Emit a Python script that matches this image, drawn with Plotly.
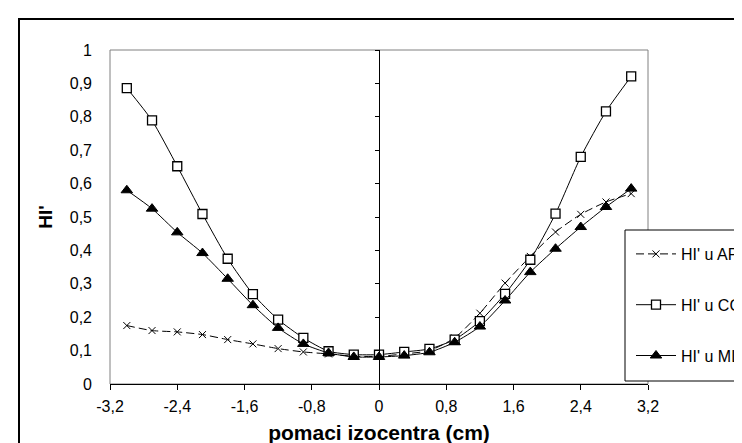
import plotly.graph_objects as go

# ---- data ----
x_shift = [-3.0, -2.7, -2.4, -2.1, -1.8, -1.5, -1.2, -0.9, -0.6, -0.3, 0.0,
           0.3, 0.6, 0.9, 1.2, 1.5, 1.8, 2.1, 2.4, 2.7, 3.0]
hi_ap = [0.175, 0.160, 0.156, 0.148, 0.133, 0.120, 0.106, 0.096, 0.090, 0.083, 0.083,
         0.090, 0.100, 0.138, 0.212, 0.302, 0.382, 0.455, 0.508, 0.545, 0.570]
hi_cc = [0.886, 0.789, 0.652, 0.509, 0.375, 0.269, 0.193, 0.138, 0.098, 0.088, 0.088,
         0.096, 0.105, 0.133, 0.188, 0.270, 0.372, 0.510, 0.680, 0.816, 0.921]
hi_ml = [0.580, 0.525, 0.454, 0.392, 0.315, 0.236, 0.168, 0.120, 0.093, 0.081, 0.081,
         0.085, 0.095, 0.125, 0.172, 0.250, 0.335, 0.405, 0.470, 0.530, 0.585]
series_names = ["HI' u AP", "HI' u CC", "HI' u ML"]

x_tick_vals = [-3.2, -2.4, -1.6, -0.8, 0.0, 0.8, 1.6, 2.4, 3.2]
x_tick_text = ["-3,2", "-2,4", "-1,6", "-0,8", "0", "0,8", "1,6", "2,4", "3,2"]
y_tick_vals = [0.0, 0.1, 0.2, 0.3, 0.4, 0.5, 0.6, 0.7, 0.8, 0.9, 1.0]
y_tick_text = ["0", "0,1", "0,2", "0,3", "0,4", "0,5", "0,6", "0,7", "0,8", "0,9", "1"]
x_title = "pomaci izocentra (cm)"
y_title = "HI'"

FONT = "Liberation Sans, Arial, sans-serif"

fig = go.Figure()
fig.add_trace(go.Scatter(
    x=x_shift, y=hi_ap, name=series_names[0], mode="lines+markers", legendgroup="a",
    line=dict(color="black", width=1, dash="8px,4px", shape="spline", smoothing=0.6),
    marker=dict(symbol="x-thin-open", size=7, color="black", line=dict(color="black", width=1)),
))
fig.add_trace(go.Scatter(
    x=x_shift, y=hi_cc, name=series_names[1], mode="lines+markers", legendgroup="b",
    line=dict(color="black", width=1, shape="spline", smoothing=0.6),
    marker=dict(symbol="square", size=9, color="white", line=dict(color="black", width=1.3)),
))
fig.add_trace(go.Scatter(
    x=x_shift, y=hi_ml, name=series_names[2], mode="lines+markers", legendgroup="c",
    line=dict(color="black", width=1, shape="spline", smoothing=0.6),
    marker=dict(symbol="triangle-up", size=10, color="black", line=dict(color="black", width=1)),
))
# empty helper trace so the central (x = 0) value axis is rendered
fig.add_trace(go.Scatter(x=[None], y=[None], yaxis="y2", showlegend=False,
                         hoverinfo="skip", mode="lines"))

L, R, T, B = 102, 102, 42, 67
W, H = 742, 443
pw, ph = W - L - R, H - T - B

def px(xpix):
    return (xpix - L) / pw

def py(ypix):
    return (H - B - ypix) / ph

fig.update_layout(
    width=W, height=H,
    margin=dict(l=L, r=R, t=T, b=B, autoexpand=False),
    paper_bgcolor="white", plot_bgcolor="white",
    font=dict(family=FONT, size=16, color="black"),
    showlegend=True,
    legend=dict(x=px(623), y=py(229), xanchor="left", yanchor="top",
                bgcolor="rgba(0,0,0,0)", borderwidth=0, itemwidth=40,
                tracegroupgap=27, traceorder="grouped",
                font=dict(family=FONT, size=16, color="black")),
    xaxis=dict(range=[-3.2, 3.2], tickvals=x_tick_vals, ticktext=x_tick_text,
               showgrid=False, zeroline=False, showline=True, linecolor="black",
               linewidth=1, ticks="outside", ticklen=5, tickcolor="black",
               tickfont=dict(size=16), ticklabelstandoff=3,
               title=dict(text="<b>" + x_title + "</b>", font=dict(size=21), standoff=11)),
    yaxis=dict(range=[0, 1], tickvals=y_tick_vals, ticktext=y_tick_text,
               showgrid=False, zeroline=False, showline=False, ticks="",
               tickfont=dict(size=16), ticklabelstandoff=17,
               title=dict(text="<b>" + y_title + "</b>", font=dict(size=19), standoff=12)),
    yaxis2=dict(range=[0, 1], overlaying="y", anchor="free", position=0.5, side="left",
                tickvals=y_tick_vals, showticklabels=False, showgrid=False, zeroline=False,
                showline=True, linecolor="black", linewidth=1,
                ticks="outside", ticklen=4, tickcolor="black"),
    shapes=[
        # plot area frame (gray)
        dict(type="rect", xref="paper", yref="paper", x0=0, y0=0, x1=1, y1=1,
             line=dict(color="#808080", width=1), layer="below"),
        # outer chart border
        dict(type="rect", xref="paper", yref="paper", x0=px(11), y0=py(H + 40),
             x1=px(W + 40), y1=py(11), line=dict(color="black", width=2),
             fillcolor="rgba(0,0,0,0)", layer="above"),
        # legend box
        dict(type="rect", xref="paper", yref="paper", x0=px(617), y0=py(373),
             x1=px(W + 40), y1=py(222), line=dict(color="black", width=1),
             fillcolor="white", layer="above"),
    ],
)

fig.write_html("out.html")
